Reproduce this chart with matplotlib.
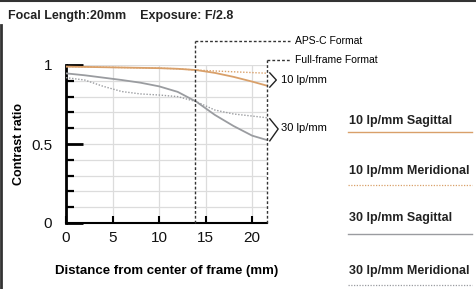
import matplotlib.pyplot as plt
from matplotlib.lines import Line2D
import numpy as np

# distance from center of frame (mm)
x_pts = [0, 2, 4, 6, 8, 10, 12, 14, 16, 18, 20, 21.6]

s10 = [0.990, 0.988, 0.986, 0.984, 0.982, 0.980, 0.976, 0.968, 0.950, 0.925, 0.895, 0.869]
m10 = [0.990, 0.988, 0.986, 0.984, 0.982, 0.980, 0.976, 0.968, 0.962, 0.957, 0.952, 0.948]
s30 = [0.947, 0.935, 0.920, 0.905, 0.888, 0.865, 0.830, 0.768, 0.684, 0.614, 0.553, 0.525]
m30 = [0.920, 0.905, 0.865, 0.832, 0.817, 0.810, 0.800, 0.768, 0.715, 0.690, 0.677, 0.666]

aps_c_edge = 13.9
full_frame_edge = 21.6

legend_labels = ['10 lp/mm Sagittal', '10 lp/mm Meridional',
                 '30 lp/mm Sagittal', '30 lp/mm Meridional']

orange = '#d9a06a'
gray = '#9a9ca0'

plt.rcParams['font.family'] = ['Liberation Sans', 'DejaVu Sans']

fig = plt.figure(figsize=(4.77, 2.89), dpi=100)
ax = fig.add_axes([66 / 477, 66 / 289, 201 / 477, 158 / 289])

ax.plot(x_pts, s10, color=orange, lw=1.3, zorder=4)
ax.plot(x_pts, m10, color=orange, lw=1.0, ls=(0, (1, 1.2)), zorder=4)
ax.plot(x_pts, s30, color=gray, lw=1.3, zorder=4)
ax.plot(x_pts, m30, color=gray, lw=1.0, ls=(0, (1, 1.2)), zorder=4)

ax.set_xlim(0, full_frame_edge)
ax.set_ylim(0, 1)
ax.set_xticks([0, 5, 10, 15, 20])
ax.set_yticks([0, 0.5, 1])
ax.set_yticklabels(['0', '0.5', '1'])
ax.set_yticks(np.arange(0, 1.01, 0.1), minor=True)

ax.grid(True, which='both', color='#dcdcdc', lw=0.9)
ax.set_axisbelow(True)
for s in ['top', 'right']:
    ax.spines[s].set_visible(False)
ax.spines['left'].set_linewidth(2)
ax.spines['bottom'].set_linewidth(1.5)

ax.tick_params(axis='y', which='major', direction='in', length=12, width=2,
               labelsize=11, pad=10, labelcolor='#111111')
ax.tick_params(axis='y', which='minor', direction='in', length=6, width=1.6)
ax.tick_params(axis='x', which='major', direction='in', length=5, width=1.5,
               labelsize=11, pad=6, labelcolor='#111111')

ax.set_ylabel('Contrast ratio', fontsize=9, fontweight='bold')
ax.yaxis.set_label_coords(-0.205, 0.5)
ax.set_xlabel('Distance from center of frame (mm)', fontsize=9.5,
              fontweight='bold', labelpad=14)

# format boundaries (dashed boxes)
dash = dict(color='#333333', lw=1.0, ls=(0, (2, 1.5)), clip_on=False, zorder=5)
ax.plot([aps_c_edge, aps_c_edge], [0, 1.155], **dash)
ax.plot([aps_c_edge, 24.1], [1.155, 1.155], **dash)
ax.plot([full_frame_edge, full_frame_edge], [0, 1.03], **dash)
ax.plot([full_frame_edge, 24.1], [1.03, 1.03], **dash)
ax.text(24.6, 1.155, 'APS-C Format', fontsize=7.5, va='center')
ax.text(24.6, 1.03, 'Full-frame Format', fontsize=7.5, va='center')

# brackets
ax.plot([21.9, 22.6, 21.9], [0.95, 0.905, 0.86], color='#222222', lw=1.0,
        clip_on=False)
ax.text(23.1, 0.905, '10 lp/mm', fontsize=8, va='center')
ax.plot([21.9, 22.8, 21.9], [0.66, 0.595, 0.52], color='#222222', lw=1.0,
        clip_on=False)
ax.text(23.1, 0.6, '30 lp/mm', fontsize=8, va='center')

fig.text(8 / 477, 1 - 16 / 289, 'Focal Length:20mm    Exposure: F/2.8',
         fontsize=9, fontweight='bold', va='center', color='#222222')

# right-hand key
key_styles = [(orange, '-'), (orange, (0, (1, 1.2))), (gray, '-'), (gray, (0, (1, 1.2)))]
text_y = [121, 171, 218, 271]
line_y = [132, 185, 234, 285]
for lab, (c, ls), ty, ly in zip(legend_labels, key_styles, text_y, line_y):
    fig.text(349 / 477, 1 - ty / 289, lab, fontsize=9, fontweight='bold',
             va='center', color='#222222')
    fig.add_artist(Line2D([348 / 477, 472 / 477], [1 - ly / 289, 1 - ly / 289],
                          color=c, lw=1.0 if ls == '-' else 0.9, ls=ls))

# screenshot border
fig.add_artist(Line2D([0, 1], [1 - 0.5 / 289, 1 - 0.5 / 289], color='#333333', lw=1.5))
fig.add_artist(Line2D([1 / 477, 1 / 477], [0, 1 - 25 / 289], color='#333333', lw=2))

fig.savefig('out.png', dpi=100)
